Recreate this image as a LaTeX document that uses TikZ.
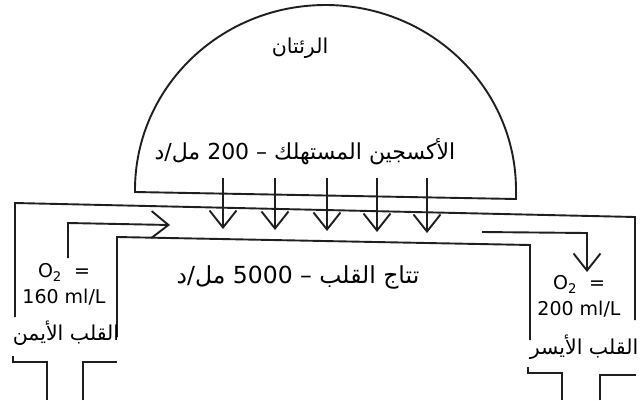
\documentclass[tikz,border=0pt]{standalone}
\usepackage{fontspec}
\setmainfont{DejaVu Sans}
\newfontfamily\arabicfont[Script=Arabic]{DejaVu Sans}
\TeXXeTstate=1
\usetikzlibrary{arrows.meta}
\begin{document}
\begin{tikzpicture}[x=1pt,y=-1pt,
  wall/.style={line width=1.9pt, draw=black!88, line join=miter},
  flow/.style={wall, -{Straight Barb[length=17pt,width=27pt]}},
  ar/.style={font=\arabicfont\fontsize{22}{26}\selectfont, inner sep=0pt, anchor=base},
  arbig/.style={ar, font=\arabicfont\fontsize{23.5}{28}\selectfont},
  arsmall/.style={ar, font=\arabicfont\fontsize{20.5}{24}\selectfont},
  lat/.style={font=\fontsize{19}{25.5}\selectfont, inner sep=0pt, align=center, anchor=base}]
\useasboundingbox[fill=white] (0,0) rectangle (640,400);

% lungs (semicircle)
\draw[wall] (135,192) -- (135,190) arc[start angle=180, end angle=0, x radius=190.5pt, y radius=185pt] -- (516,199) -- cycle;

% outer vessel wall
\draw[wall] (15,317) -- (15,203) -- (635,217) -- (635,320);
% inner vessel wall
\draw[wall] (117,337) -- (117,237) -- (530,245) -- (530,340);

% right heart brackets
\draw[wall] (13,356) -- (13,362) -- (47,362) -- (47,400);
\draw[wall] (83,400) -- (83,362) -- (117,362);
% left heart brackets
\draw[wall] (528,367) -- (528,373) -- (562,373) -- (562,400);
\draw[wall] (600,400) -- (600,375) -- (636,375);

% flow arrows
\coordinate (la0) at (68,258);
\coordinate (la1) at (68,223);
\coordinate (la2) at (170,225);
\draw[flow] (la0) -- (la1) -- (la2);
\coordinate (ra0) at (482,232);
\coordinate (ra1) at (587,233);
\coordinate (ra2) at (587,272);
\draw[flow] (ra0) -- (ra1) -- (ra2);

% oxygen consumption arrows
\foreach \x/\t [count=\i] in {223/229,275/230,327/231,377/232,427/233}{
  \coordinate (s\i) at (\x,178);
  \coordinate (e\i) at (\x,\t);
  \draw[flow] (s\i) -- (e\i);
}

% texts
\node[arsmall] (lungs) at (300,53) {\beginR الرئتان\endR};
\node[ar] (consumed) at (305,159) {\beginR الأكسجين المستهلك – 200 مل/د\endR};
\node[arbig] (output) at (298,283) {\beginR تتاج القلب – 5000 مل/د\endR};
\node[arsmall] (rheart) at (66,340) {\beginR القلب الأيمن\endR};
\node[arsmall] (lheart) at (584,354) {\beginR القلب الأيسر\endR};
\node[lat] (o2l) at (64,303) {O\textsubscript{2}\ \ =\\160 ml/L};
\node[lat] (o2r) at (579,315) {O\textsubscript{2}\ \ =\\200 ml/L};
\end{tikzpicture}
\end{document}
